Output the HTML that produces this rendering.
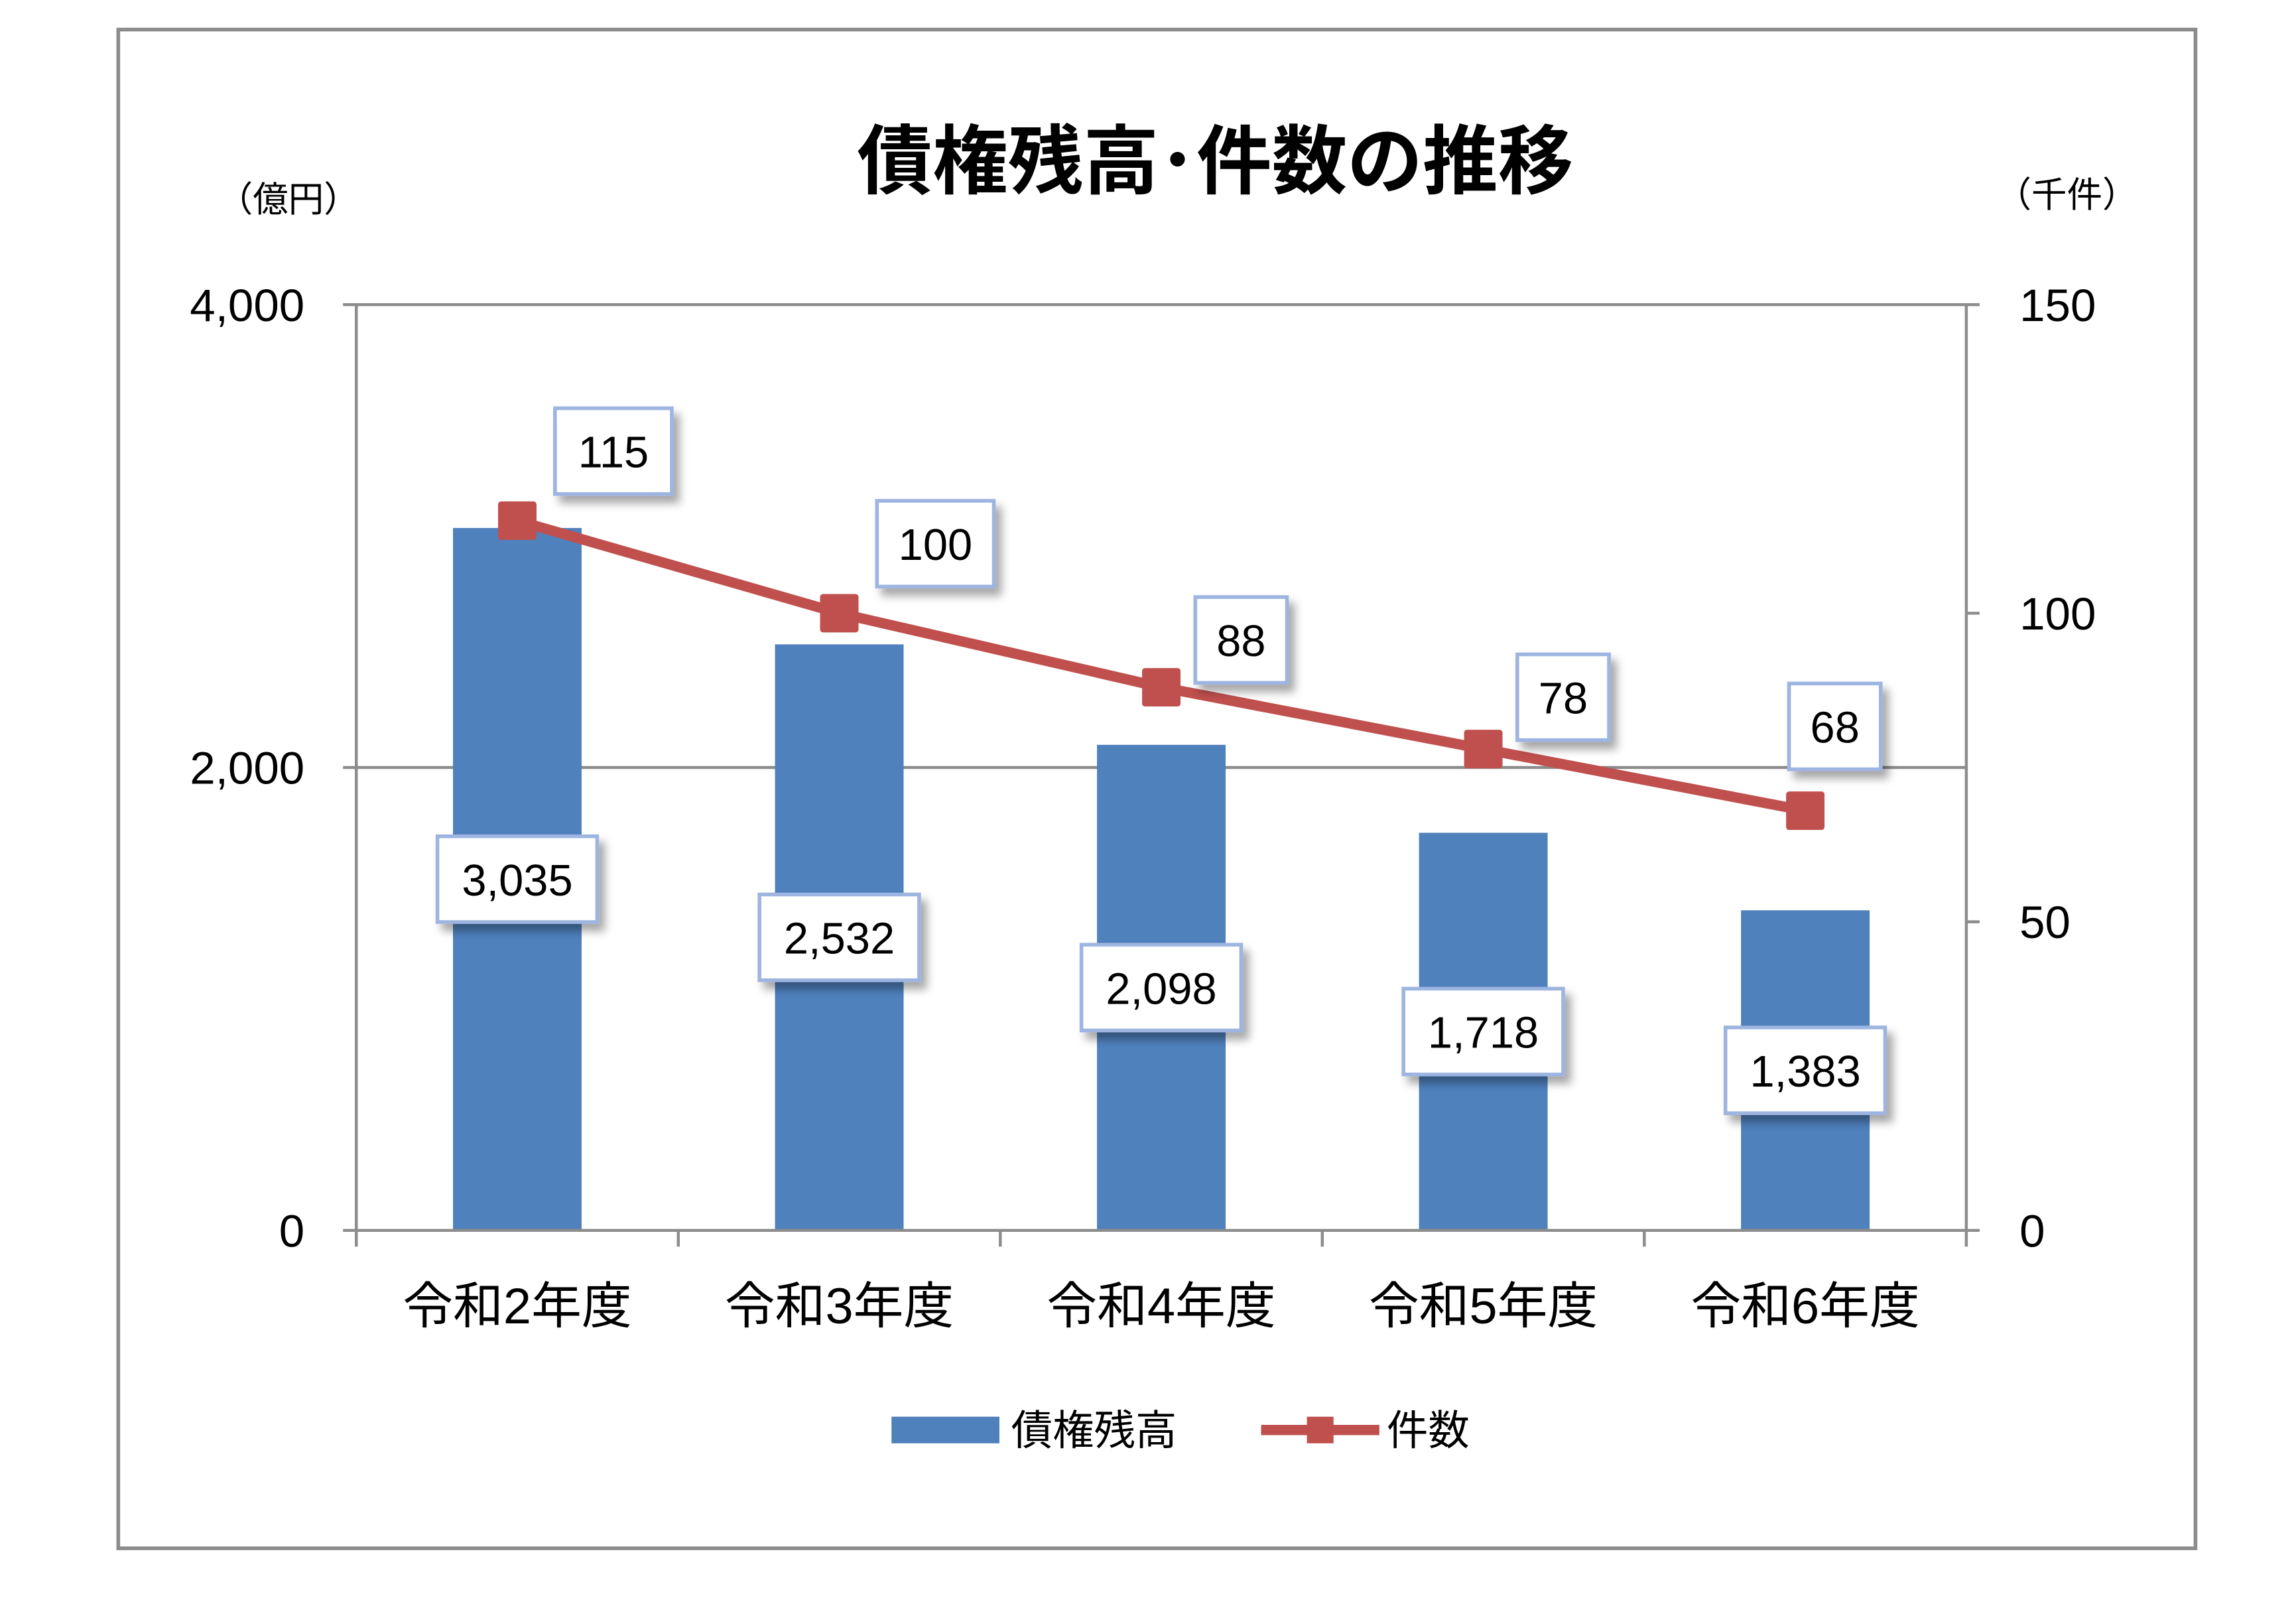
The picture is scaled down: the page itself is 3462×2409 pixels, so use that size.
<!DOCTYPE html>
<html><head><meta charset="utf-8"><style>
html,body{margin:0;padding:0;background:#fff;}
svg{display:block;}
text{font-family:"Liberation Sans","Noto Sans CJK JP",sans-serif;}
</style></head><body>
<svg id="chart" width="3462" height="2409" viewBox="0 0 1553 1080.6" preserveAspectRatio="none" xmlns="http://www.w3.org/2000/svg">
<defs><filter id="sh" x="-20%" y="-20%" width="150%" height="150%"><feDropShadow dx="4" dy="5" stdDeviation="3" flood-color="#000" flood-opacity="0.35"/></filter></defs>
<rect x="80" y="20" width="1405" height="1027" fill="#fff" stroke="#8c8c8c" stroke-width="2.5"/>
<text x="822" y="127" font-size="51" font-weight="bold" text-anchor="middle">債権残高･件数の推移</text>
<text x="195" y="143" font-size="24" text-anchor="middle">（億円）</text>
<text x="1398" y="140" font-size="24" text-anchor="middle">（千件）</text>
<g id="grid"></g><g id="bars"></g><g id="line"></g><g id="labels"></g><g id="axes"></g>
<g>
<rect x="603" y="958" width="73" height="18" fill="#4f81bd"/>
<text x="684" y="977" font-size="28">債権残高</text>
<line x1="853" y1="967" x2="933" y2="967" stroke="#c0504d" stroke-width="7"/>
<rect x="884" y="958" width="18" height="18" fill="#c0504d"/>
<text x="938" y="977" font-size="28">件数</text>
</g>
</svg>
<script>
const categories=["令和2年度","令和3年度","令和4年度","令和5年度","令和6年度"];
const balances=[3035,2532,2098,1718,1383];
const counts=[115,100,88,78,68];
const leftTicks=[0,2000,4000];
const rightTicks=[0,50,100,150];
const NS="http://www.w3.org/2000/svg";
const X0=241,X1=1330,Y0=832,Y1=206;
const yL=v=>Y0-v/4000*(Y0-Y1);
const yR=v=>Y0-v/150*(Y0-Y1);
const band=(X1-X0)/categories.length;
const xC=i=>X0+band*(i+0.5);
function mk(tag,attrs,parent){const e=document.createElementNS(NS,tag);for(const k in attrs)e.setAttribute(k,attrs[k]);parent.appendChild(e);return e;}
const fmt=v=>v.toLocaleString('en-US');
const grid=document.getElementById('grid'),axes=document.getElementById('axes');
leftTicks.forEach(v=>{
 if(v>0){const g=mk('line',{x1:X0,x2:X1,y1:yL(v),y2:yL(v),stroke:'#8c8c8c','stroke-width':2},grid);
 
 }
 const t=mk('line',{x1:X0-9,x2:X0,y1:yL(v),y2:yL(v),stroke:'#8c8c8c','stroke-width':2},axes);
 
 
 const tx=mk('text',{x:206,y:yL(v)+11,'font-size':31,'text-anchor':'end'},axes);tx.textContent=fmt(v);
 
 
});
rightTicks.forEach(v=>{
 const t=mk('line',{x1:X1,x2:X1+9,y1:yR(v),y2:yR(v),stroke:'#8c8c8c','stroke-width':2},axes);
 
 
 const tx=mk('text',{x:1366,y:yR(v)+11,'font-size':31},axes);tx.textContent=v;
 
 
});
let a=mk('line',{x1:X0,x2:X0,y1:Y1,y2:Y0,stroke:'#8c8c8c','stroke-width':2},axes);


a=mk('line',{x1:X1,x2:X1,y1:Y1,y2:Y0,stroke:'#8c8c8c','stroke-width':2},axes);


a=mk('line',{x1:X0,x2:X1,y1:Y0,y2:Y0,stroke:'#8c8c8c','stroke-width':2},axes);


for(let i=0;i<=categories.length;i++){const t=mk('line',{x1:X0+band*i,x2:X0+band*i,y1:Y0,y2:Y0+11,stroke:'#8c8c8c','stroke-width':2},axes);
 
 }
categories.forEach((c,i)=>{const t=mk('text',{x:xC(i),y:895,'font-size':34,'text-anchor':'middle'},axes);t.textContent=c;
 
 });
const bars=document.getElementById('bars'),line=document.getElementById('line'),labels=document.getElementById('labels');
const bw=87;
function box(cx,cy,w,txt,name){
 const g=mk('g',{},labels);
 
 
 mk('rect',{x:cx-w/2,y:cy-29,width:w,height:58,fill:'#fff',stroke:'#9db5e0','stroke-width':2.5,filter:'url(#sh)'},g);
 const t=mk('text',{x:cx,y:cy+11,'font-size':30,'text-anchor':'middle'},g);t.textContent=txt;
}
balances.forEach((v,i)=>{
 const r=mk('rect',{x:xC(i)-bw/2,y:yL(v),width:bw,height:Y0-yL(v),fill:'#4f81bd'},bars);
 
 
 const s=fmt(v);box(xC(i),(yL(v)+Y0)/2,s.length*16+28,s,'bar-value-label');
});
const pl=mk('polyline',{points:counts.map((v,i)=>xC(i)+','+yR(v)).join(' '),fill:'none',stroke:'#c0504d','stroke-width':7},line);


const lblDx=[65,65,54,54,20], lblDy=[-47,-47,-32,-35,-57];
counts.forEach((v,i)=>{
 const m=mk('rect',{x:xC(i)-13,y:yR(v)-13,width:26,height:26,fill:'#c0504d',rx:2},line);
 
 
 const s=String(v);box(xC(i)+lblDx[i],yR(v)+lblDy[i],s.length*17+28,s,'count-value-label');
});
</script>
</body></html>
